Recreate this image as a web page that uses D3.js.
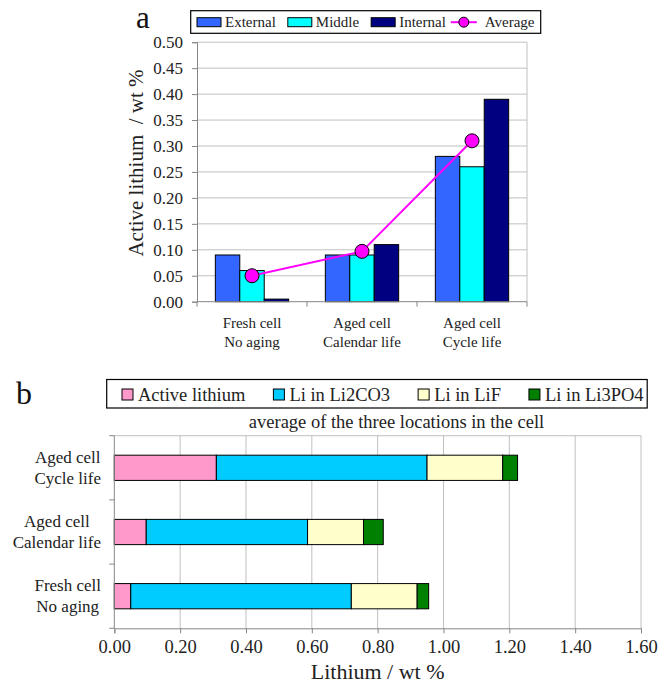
<!DOCTYPE html>
<html>
<head>
<meta charset="utf-8">
<script src="https://cdn.jsdelivr.net/npm/d3@7"></script>
<style>
  html, body { margin: 0; padding: 0; background: #fff; }
  svg, svg text { font-family: "Liberation Serif", Tinos, "Times New Roman", Times, "DejaVu Serif", serif; }
</style>
</head>
<body>
<svg width="672" height="686"></svg>
<script>
/*********************** DATA : panel a ***********************/
var catsA = [["Fresh cell", "No aging"], ["Aged cell", "Calendar life"], ["Aged cell", "Cycle life"]];
var seriesA = ["External", "Middle", "Internal"];
var external = [0.09, 0.09, 0.28];
var middle   = [0.06, 0.09, 0.26];
var internal = [0.005, 0.11, 0.39];
var average  = [0.05, 0.097, 0.31];
var yTicksA  = [0, 0.05, 0.10, 0.15, 0.20, 0.25, 0.30, 0.35, 0.40, 0.45, 0.50];

/*********************** DATA : panel b ***********************/
var catsB = [["Fresh cell", "No aging"], ["Aged cell", "Calendar life"], ["Aged cell", "Cycle life"]];
var seriesB = ["Active lithium", "Li in Li2CO3", "Li in LiF", "Li in Li3PO4"];
var activeLi = [0.05, 0.097, 0.31];
var li2co3   = [0.67, 0.49, 0.64];
var liF      = [0.20, 0.17, 0.23];
var li3po4   = [0.035, 0.06, 0.045];
var xTicksB  = [0, 0.2, 0.4, 0.6, 0.8, 1.0, 1.2, 1.4, 1.6];

var colA = {"External": "#3366ff", "Middle": "#00ffff", "Internal": "#000080"};
var colB = ["#ff99cc", "#00ccff", "#ffffcc", "#008000"];
var GRID = "#c0c0c0", AXIS = "#868686";
var SERIF = "Liberation Serif, Tinos, Times New Roman, Times, DejaVu Serif, serif";

var svg = d3.select("svg").attr("font-family", SERIF);

/*************************** PANEL A ***************************/
var A = {left: 197, right: 527, top: 42.2, bottom: 301.7};
var gA = svg.append("g");

var x0 = d3.scaleBand().domain(d3.range(catsA.length)).range([A.left, A.right]);
var x1 = d3.scaleBand().domain(seriesA)
  .range([x0.bandwidth() / 6, x0.bandwidth() * 5 / 6]);
var yA = d3.scaleLinear().domain([0, 0.5]).range([A.bottom, A.top]);

// gridlines
gA.append("g").selectAll("line").data(yTicksA.slice(1)).join("line")
  .attr("x1", A.left).attr("x2", A.right)
  .attr("y1", function(d) { return yA(d); }).attr("y2", function(d) { return yA(d); })
  .attr("stroke", GRID).attr("stroke-width", 1);
// right border
gA.append("line").attr("x1", A.right).attr("x2", A.right).attr("y1", A.top).attr("y2", A.bottom)
  .attr("stroke", GRID);

// bars
var valsA = {"External": external, "Middle": middle, "Internal": internal};
seriesA.forEach(function(s) {
  gA.append("g").selectAll("rect").data(valsA[s]).join("rect")
    .attr("x", function(d, i) { return x0(i) + x1(s); })
    .attr("y", function(d) { return yA(d); })
    .attr("width", x1.bandwidth())
    .attr("height", function(d) { return yA(0) - yA(d); })
    .attr("fill", colA[s]).attr("stroke", "#000").attr("stroke-width", 1);
});

// y axis
var axA = gA.append("g").attr("transform", "translate(" + A.left + ",0)")
  .call(d3.axisLeft(yA).tickValues(yTicksA).tickSize(5).tickPadding(9).tickFormat(d3.format(".2f")));
axA.attr("font-family", SERIF).attr("font-size", null);
axA.select(".domain").attr("stroke", AXIS);
axA.selectAll(".tick line").attr("stroke", AXIS);
axA.selectAll("text").attr("font-size", 17).attr("fill", "#222");

// x axis line + ticks between categories
gA.append("line").attr("x1", A.left).attr("x2", A.right).attr("y1", A.bottom).attr("y2", A.bottom)
  .attr("stroke", AXIS);
gA.append("g").selectAll("line").data(d3.range(catsA.length + 1)).join("line")
  .attr("x1", function(i) { return A.left + i * x0.bandwidth(); })
  .attr("x2", function(i) { return A.left + i * x0.bandwidth(); })
  .attr("y1", A.bottom).attr("y2", A.bottom + 5)
  .attr("stroke", AXIS);

// category labels
catsA.forEach(function(lines, i) {
  lines.forEach(function(t, k) {
    gA.append("text")
      .attr("x", x0(i) + x0.bandwidth() / 2)
      .attr("y", 328.3 + k * 18.5)
      .attr("text-anchor", "middle").attr("font-size", 15).attr("fill", "#222")
      .text(t);
  });
});

// average line & markers
var line = d3.line()
  .x(function(d, i) { return x0(i) + x1("Middle") + x1.bandwidth() / 2; })
  .y(function(d) { return yA(d); });
gA.append("path").attr("d", line(average))
  .attr("fill", "none").attr("stroke", "#ff00ff").attr("stroke-width", 2);
gA.append("g").selectAll("circle").data(average).join("circle")
  .attr("cx", function(d, i) { return x0(i) + x1("Middle") + x1.bandwidth() / 2; })
  .attr("cy", function(d) { return yA(d); })
  .attr("r", 7).attr("fill", "#ff00ff").attr("stroke", "#000").attr("stroke-width", 1);

// y title
gA.append("text")
  .attr("transform", "translate(143," + ((68 + 258) / 2) + ") rotate(-90)")
  .attr("text-anchor", "middle").attr("font-size", 21).attr("fill", "#222")
  .attr("xml:space", "preserve")
  .text("Active lithium  / wt %");

// panel letter
svg.append("text").attr("x", 136).attr("y", 27.6).attr("font-size", 31).attr("fill", "#111").text("a");

// legend a
var legA = svg.append("g");
legA.append("rect").attr("x", 190.7).attr("y", 10.7).attr("width", 350).attr("height", 22.6)
  .attr("fill", "#fff").attr("stroke", "#000").attr("stroke-width", 1.2);
var lx = 197;
seriesA.forEach(function(s) {
  legA.append("rect").attr("x", lx).attr("y", 17.7).attr("width", 24).attr("height", 9)
    .attr("fill", colA[s]).attr("stroke", "#000").attr("stroke-width", 1);
  var t = legA.append("text").attr("x", lx + 28).attr("y", 27.3).attr("font-size", 15).attr("fill", "#222").text(s);
  lx = lx + 28 + t.node().getComputedTextLength() + 12;
});
lx = lx - 7;
legA.append("line").attr("x1", lx).attr("x2", lx + 26).attr("y1", 22.2).attr("y2", 22.2)
  .attr("stroke", "#ff00ff").attr("stroke-width", 2);
legA.append("circle").attr("cx", lx + 13).attr("cy", 22.2).attr("r", 5)
  .attr("fill", "#ff00ff").attr("stroke", "#000").attr("stroke-width", 1);
legA.append("text").attr("x", lx + 34).attr("y", 27.3).attr("font-size", 15).attr("fill", "#222").text("Average");

/*************************** PANEL B ***************************/
var B = {left: 114.3, right: 641, top: 435.7, bottom: 628.3};
var gB = svg.append("g");

var xB = d3.scaleLinear().domain([0, 1.6]).range([B.left, B.right]);
var yB = d3.scaleBand().domain(d3.range(catsB.length).reverse()).range([B.top, B.bottom]);
var barH = yB.bandwidth() * 0.393;

// gridlines
gB.append("g").selectAll("line").data(xTicksB.slice(1)).join("line")
  .attr("x1", function(d) { return xB(d); }).attr("x2", function(d) { return xB(d); })
  .attr("y1", B.top).attr("y2", B.bottom)
  .attr("stroke", GRID).attr("stroke-width", 1);
gB.append("line").attr("x1", B.left).attr("x2", B.right).attr("y1", B.top).attr("y2", B.top)
  .attr("stroke", GRID);

// stacked bars
var rowsB = catsB.map(function(c, i) {
  return {i: i, a: activeLi[i], b: li2co3[i], c: liF[i], d: li3po4[i]};
});
var stack = d3.stack().keys(["a", "b", "c", "d"])(rowsB);
stack.forEach(function(layer, k) {
  gB.append("g").selectAll("rect").data(layer).join("rect")
    .attr("x", function(d) { return xB(d[0]); })
    .attr("width", function(d) { return xB(d[1]) - xB(d[0]); })
    .attr("y", function(d) { return yB(d.data.i) + (yB.bandwidth() - barH) / 2; })
    .attr("height", barH)
    .attr("fill", colB[k]).attr("stroke", "#000").attr("stroke-width", 1);
});

// x axis
var axB = gB.append("g").attr("transform", "translate(0," + B.bottom + ")")
  .call(d3.axisBottom(xB).tickValues(xTicksB).tickSize(5).tickPadding(7).tickFormat(d3.format(".2f")));
axB.attr("font-family", SERIF).attr("font-size", null);
axB.select(".domain").attr("stroke", AXIS);
axB.selectAll(".tick line").attr("stroke", AXIS);
axB.selectAll("text").attr("font-size", 18.5).attr("fill", "#222");

// y axis line + ticks between categories
gB.append("line").attr("x1", B.left).attr("x2", B.left).attr("y1", B.top).attr("y2", B.bottom)
  .attr("stroke", AXIS);
gB.append("g").selectAll("line").data(d3.range(catsB.length + 1)).join("line")
  .attr("x1", B.left - 5).attr("x2", B.left)
  .attr("y1", function(i) { return B.top + i * yB.bandwidth(); })
  .attr("y2", function(i) { return B.top + i * yB.bandwidth(); })
  .attr("stroke", AXIS);

// category labels (block right-aligned, lines centred)
catsB.forEach(function(lines, i) {
  var cy = yB(i) + yB.bandwidth() / 2;
  var tt = lines.map(function(t, k) {
    return gB.append("text").attr("y", cy - 5 + k * 21)
      .attr("text-anchor", "middle").attr("font-size", 17).attr("fill", "#222").text(t);
  });
  var w = d3.max(tt, function(t) { return t.node().getComputedTextLength(); });
  tt.forEach(function(t) { t.attr("x", 101 - w / 2); });
});

// titles
svg.append("text").attr("x", 396.5).attr("y", 428).attr("text-anchor", "middle")
  .attr("font-size", 18.5).attr("fill", "#222").text("average of the three locations in the cell");
svg.append("text").attr("x", (B.left + B.right) / 2).attr("y", 679).attr("text-anchor", "middle")
  .attr("font-size", 22).attr("fill", "#222").text("Lithium / wt %");
svg.append("text").attr("x", 16).attr("y", 404).attr("font-size", 32).attr("fill", "#111").text("b");

// legend b
var legB = svg.append("g");
legB.append("rect").attr("x", 106.7).attr("y", 379.5).attr("width", 540.5).attr("height", 28.5)
  .attr("fill", "#fff").attr("stroke", "#000").attr("stroke-width", 1.2);
var bx = 122;
seriesB.forEach(function(s, k) {
  legB.append("rect").attr("x", bx).attr("y", 389).attr("width", 11).attr("height", 11)
    .attr("fill", colB[k]).attr("stroke", "#000").attr("stroke-width", 1);
  var t = legB.append("text").attr("x", bx + 16).attr("y", 400.5).attr("font-size", 18.5).attr("fill", "#222").text(s);
  bx = bx + 16 + t.node().getComputedTextLength() + 28;
});
</script>
</body>
</html>
